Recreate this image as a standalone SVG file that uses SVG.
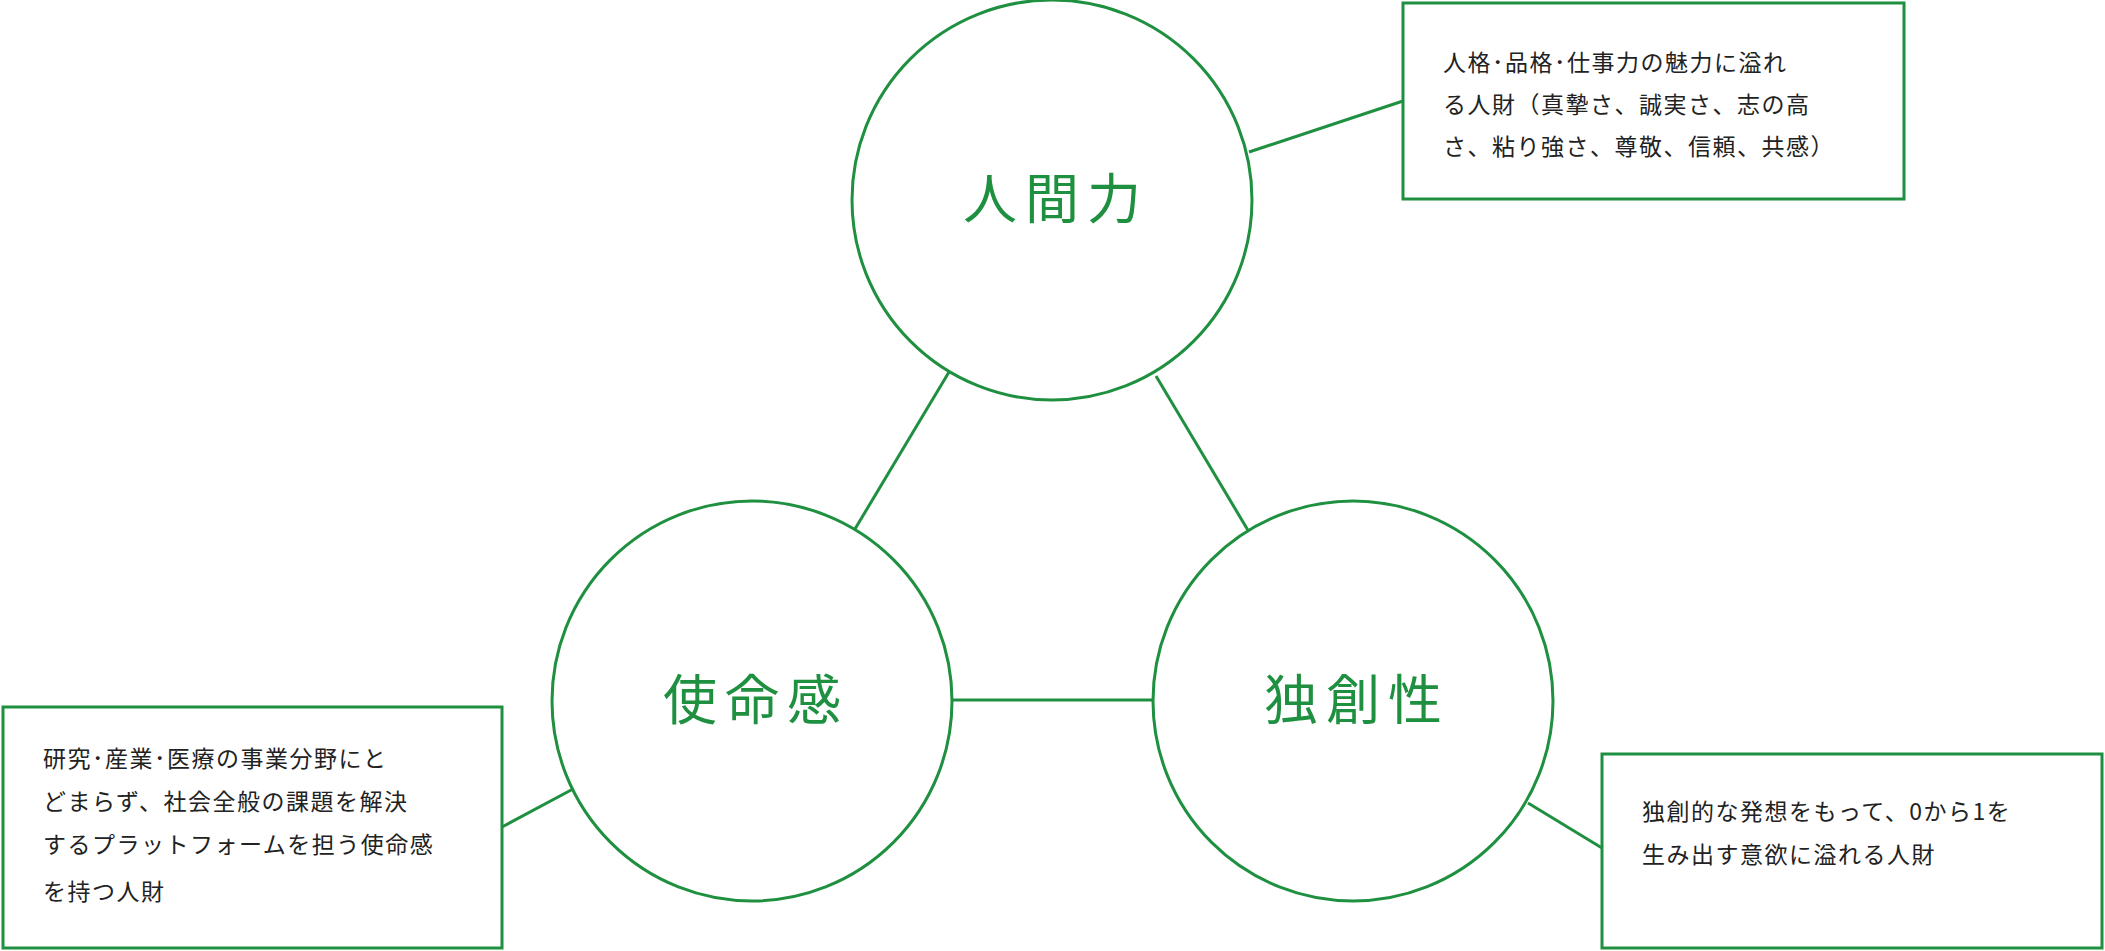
<svg xmlns="http://www.w3.org/2000/svg" width="2105" height="951" viewBox="0 0 2105 951">
<style>
.c{fill:#fff;stroke:#1e9040;stroke-width:3}
.b{fill:#fff;stroke:#1e9040;stroke-width:3}
.l{stroke:#1e9040;stroke-width:3;fill:none}
.t{font-family:"Noto Sans CJK JP",sans-serif;font-size:54px;fill:#1e9040;text-anchor:middle;letter-spacing:8px}
.s{font-family:"Noto Sans CJK JP",sans-serif;font-size:23px;fill:#222;letter-spacing:1.5px}
</style>
<rect width="2105" height="951" fill="#fff"/>
<g id="connectors">
<line class="l" x1="1249" y1="152" x2="1403" y2="101"/>
<line class="l" x1="949" y1="372" x2="855" y2="529"/>
<line class="l" x1="1156" y1="376" x2="1249" y2="532"/>
<line class="l" x1="952" y1="700" x2="1152" y2="700"/>
<line class="l" x1="573" y1="789" x2="502" y2="827"/>
<line class="l" x1="1528" y1="803" x2="1602" y2="848"/>
</g>
<g id="ningenryoku"><circle class="c" cx="1052" cy="200" r="200"/><text class="t" x="1056" y="219">人間力</text></g>
<g id="shimeikan"><circle class="c" cx="752" cy="701" r="200"/><text class="t" x="756" y="720">使命感</text></g>
<g id="dokusousei"><circle class="c" cx="1353" cy="701" r="200"/><text class="t" x="1357" y="720">独創性</text></g>
<g id="box-top"><rect class="b" x="1403" y="3" width="501" height="196"/>
<text class="s" x="1443" y="71">人格･品格･仕事力の魅力に溢れ</text>
<text class="s" x="1443" y="113">る人財（真摯さ、誠実さ、志の高</text>
<text class="s" x="1443" y="155">さ、粘り強さ、尊敬、信頼、共感）</text></g>
<g id="box-left"><rect class="b" x="3" y="707" width="499" height="241"/>
<text class="s" x="43" y="767">研究･産業･医療の事業分野にと</text>
<text class="s" x="43" y="810">どまらず、社会全般の課題を解決</text>
<text class="s" x="43" y="853">するプラットフォームを担う使命感</text>
<text class="s" x="43" y="900">を持つ人財</text></g>
<g id="box-right"><rect class="b" x="1602" y="754" width="500" height="194"/>
<text class="s" x="1642" y="820">独創的な発想をもって、0から1を</text>
<text class="s" x="1642" y="863">生み出す意欲に溢れる人財</text></g>
</svg>
